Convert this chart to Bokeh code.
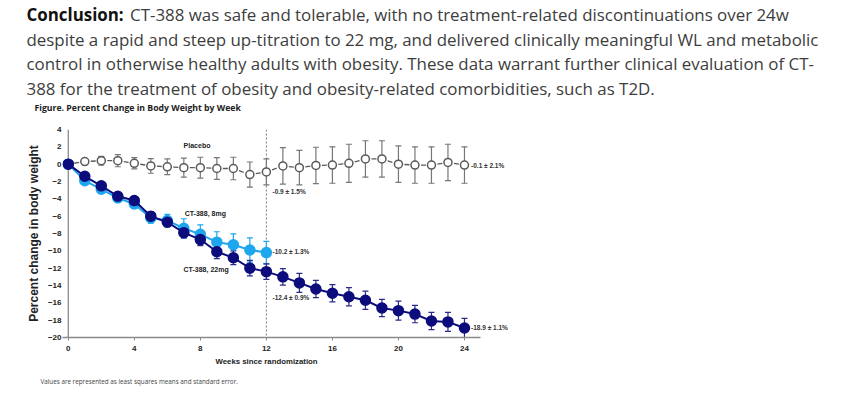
from bokeh.plotting import figure
from bokeh.layouts import column
from bokeh.models import (Range1d, Label, Whisker, ColumnDataSource, TeeHead,
                          Span, FixedTicker, Title)
from bokeh.embed import file_html
from bokeh.resources import INLINE

# ---------------- data ----------------
weeks = list(range(25))
weeks_8mg = list(range(13))

placebo = [0.0, 0.3, 0.4, 0.4, 0.1, -0.2, -0.3, -0.4, -0.4, -0.5, -0.5, -1.2, -0.9,
           -0.2, -0.4, -0.15, -0.1, 0.1, 0.6, 0.6, 0.0, -0.1, -0.1, 0.2, -0.1]
placebo_se = [0.0, 0.3, 0.5, 0.7, 0.65, 0.85, 0.9, 1.1, 1.2, 1.25, 1.3, 1.45, 1.5,
              2.1, 2.0, 2.1, 2.1, 2.2, 2.1, 2.1, 2.1, 2.1, 2.1, 2.1, 2.1]

mg8 = [0.0, -1.9, -2.9, -3.9, -4.6, -6.2, -6.5, -7.4, -8.1, -9.0, -9.3, -9.9, -10.2]
mg8_se = [0.0, 0.3, 0.4, 0.4, 0.5, 0.6, 0.7, 1.1, 1.1, 1.2, 1.25, 1.4, 1.3]

mg22 = [0.0, -1.4, -2.5, -3.7, -4.2, -6.0, -6.7, -7.9, -8.7, -10.1, -10.8, -12.0, -12.4,
        -13.0, -13.7, -14.4, -14.9, -15.3, -15.7, -16.6, -16.9, -17.3, -18.1, -18.2, -18.9]
mg22_se = [0.0, 0.2, 0.3, 0.3, 0.3, 0.5, 0.5, 0.6, 0.7, 0.8, 0.8, 0.9, 0.9,
           0.95, 1.1, 1.0, 1.0, 1.05, 1.05, 1.0, 1.1, 1.0, 1.0, 1.1, 1.1]

x_ticks = [0, 4, 8, 12, 16, 20, 24]
y_ticks = [4, 2, 0, -2, -4, -6, -8, -10, -12, -14, -16, -18, -20]

series_labels = ["Placebo", "CT-388, 8mg", "CT-388, 22mg"]
label_x = [7.8, 8.3, 8.35]
label_y = [2.2, -5.7, -12.1]

end_labels = ["-0.9 \u00b1 1.5%", "-10.2 \u00b1 1.3%", "-12.4 \u00b1 0.9%",
              "-0.1 \u00b1 2.1%", "-18.9 \u00b1 1.1%"]
end_x = [12.37, 12.37, 12.37, 24.4, 24.4]
end_y = [-3.1, -10.05, -15.4, -0.1, -18.85]

x_title = "Weeks since randomization"
y_title = "Percent change in body weight"
paragraph_bold = "Conclusion:"
paragraph = [
    "CT-388 was safe and tolerable, with no treatment-related discontinuations over 24w",
    "despite a rapid and steep up-titration to 22 mg, and delivered clinically meaningful WL and metabolic",
    "control in otherwise healthy adults with obesity. These data warrant further clinical evaluation of CT-",
    "388 for the treatment of obesity and obesity-related comorbidities, such as T2D.",
]
fig_caption = "Figure. Percent Change in Body Weight by Week"
footnote = "Values are represented as least squares means and standard error."

# ---------------- layout constants ----------------
W = 860
HEAD_H = 113                 # header (paragraph + caption) height
MAIN_H = 287
FL = 62                      # chart frame left (page px)
FRAME_TOP, FRAME_BOTTOM = 129, 337
PX_PER_WEEK = 16.52
X0, X1 = -0.35, 28
NAVY = "#0c0c7c"
LIGHT = "#1ea6ee"
GREY = "#5a5a5a"

# ---------------- header figure (texts above the chart) ----------------
head = figure(width=W, height=HEAD_H, x_range=Range1d(0, W), y_range=Range1d(HEAD_H, 0),
              output_backend="svg", toolbar_location=None,
              x_axis_location=None, y_axis_location=None,
              min_border=0, min_border_left=0, min_border_right=0,
              min_border_top=0, min_border_bottom=0)
head.outline_line_color = None
head.grid.visible = False
head.frame_align = False

baselines = [14, 38.5, 63, 87.5]
FS = "16.9px"
head.add_layout(Label(x=26, y=baselines[0], text=paragraph_bold, text_font="Open Sans",
                      text_font_style="bold", text_font_size=FS, text_color="#111111",
                      text_baseline="alphabetic"))
for i, t in enumerate(paragraph):
    head.add_layout(Label(x=129.5 if i == 0 else 26, y=baselines[i], text=t,
                          text_font="Open Sans", text_font_size=FS,
                          text_color="#3d3d3d", text_baseline="alphabetic"))
head.add_layout(Label(x=34, y=107, text=fig_caption, text_font="Open Sans",
                      text_font_style="bold", text_font_size="8.7px",
                      text_color="#222222", text_baseline="middle"))

# ---------------- main chart ----------------
frame_right = FL + (X1 - X0) * PX_PER_WEEK
p = figure(width=W, height=MAIN_H, x_range=Range1d(X0, X1), y_range=Range1d(-20, 4),
           output_backend="svg", toolbar_location=None,
           min_border_left=FL, min_border_right=int(round(W - frame_right)),
           min_border_top=FRAME_TOP - HEAD_H,
           min_border_bottom=MAIN_H - (FRAME_BOTTOM - HEAD_H))
p.outline_line_color = None
p.grid.visible = False
p.frame_align = False

p.xaxis.ticker = FixedTicker(ticks=x_ticks)
p.yaxis.ticker = FixedTicker(ticks=y_ticks)
p.xaxis.bounds = (X0, 25)
for ax in (p.xaxis, p.yaxis):
    ax.axis_line_color = "#8a8a8a"
    ax.axis_line_width = 1.3
    ax.major_tick_line_color = "#8a8a8a"
    ax.major_tick_out = 3
    ax.major_tick_in = 0
    ax.minor_tick_line_color = None
    ax.major_label_text_font = "Liberation Sans"
    ax.major_label_text_font_style = "bold"
    ax.major_label_text_font_size = "8px"
    ax.major_label_text_color = "#222222"
    ax.axis_label_text_font = "Liberation Sans"
    ax.axis_label_text_font_style = "bold"
    ax.axis_label_text_color = "#222222"
# y axis line sits at week 0 (drawn as a span); the axis panel keeps the labels
p.yaxis.axis_line_color = None
p.yaxis.major_tick_line_color = None
p.yaxis.major_tick_out = 0
p.yaxis.major_label_standoff = 1
p.xaxis.major_label_standoff = 5
p.yaxis.axis_label = y_title
p.yaxis.axis_label_text_font_size = "12px"
p.yaxis.axis_label_standoff = 4

p.add_layout(Span(location=0, dimension="height", line_color="#8a8a8a",
                  line_width=1.3, level="underlay"))
p.add_layout(Span(location=12, dimension="height", line_color="#777777",
                  line_dash="2 2", line_width=1, level="underlay"))


def add_series(x, y, se, color, bar_color, fill, size, lw, dashed=False):
    src = ColumnDataSource(dict(x=x, y=y,
                                lo=[a - b for a, b in zip(y, se)],
                                hi=[a + b for a, b in zip(y, se)]))
    p.add_layout(Whisker(base="x", upper="hi", lower="lo", source=src,
                         line_color=bar_color, line_width=1.2, level="underlay",
                         upper_head=TeeHead(size=6, line_color=bar_color, line_width=1.2),
                         lower_head=TeeHead(size=6, line_color=bar_color, line_width=1.2)))
    if dashed:
        seg = ColumnDataSource(dict(x0=x[:-1], y0=y[:-1], x1=x[1:], y1=y[1:]))
        p.segment("x0", "y0", "x1", "y1", source=seg, line_color=color,
                  line_width=lw, line_dash="0 6 5 100")
    else:
        p.line("x", "y", source=src, line_color=color, line_width=lw)
    p.scatter("x", "y", source=src, size=size, fill_color=fill, line_color=color,
              line_width=1.5)


add_series(weeks, placebo, placebo_se, GREY, "#777777", "white", 8, 1.3, dashed=True)
add_series(weeks_8mg, mg8, mg8_se, LIGHT, LIGHT, LIGHT, 10, 2)
add_series(weeks, mg22, mg22_se, NAVY, "#2a2a8a", NAVY, 10, 2)

for t, x, y in zip(series_labels, label_x, label_y):
    p.add_layout(Label(x=x, y=y, text=t, text_font="Liberation Sans",
                       text_font_style="bold", text_font_size="7px",
                       text_align="center", text_baseline="middle",
                       text_color="#222222"))
for t, x, y in zip(end_labels, end_x, end_y):
    p.add_layout(Label(x=x, y=y, text=t, text_font="Liberation Sans",
                       text_font_style="bold", text_font_size="6.5px",
                       text_align="left", text_baseline="middle",
                       text_color="#333333"))

# x-axis title (left-placed under the 0..25 axis) and footnote
p.add_layout(Title(text=x_title, align="left", offset=215 - FL, standoff=3,
                   text_font="Liberation Sans", text_font_style="bold",
                   text_font_size="7.8px", text_color="#222222"), "below")
p.add_layout(Title(text=footnote, align="left", offset=40 - FL, standoff=14,
                   text_font="Open Sans", text_font_style="normal",
                   text_font_size="6.3px", text_color="#444444"), "below")

layout = column(head, p, spacing=0)
open("out.html", "w").write(file_html(layout, INLINE))
